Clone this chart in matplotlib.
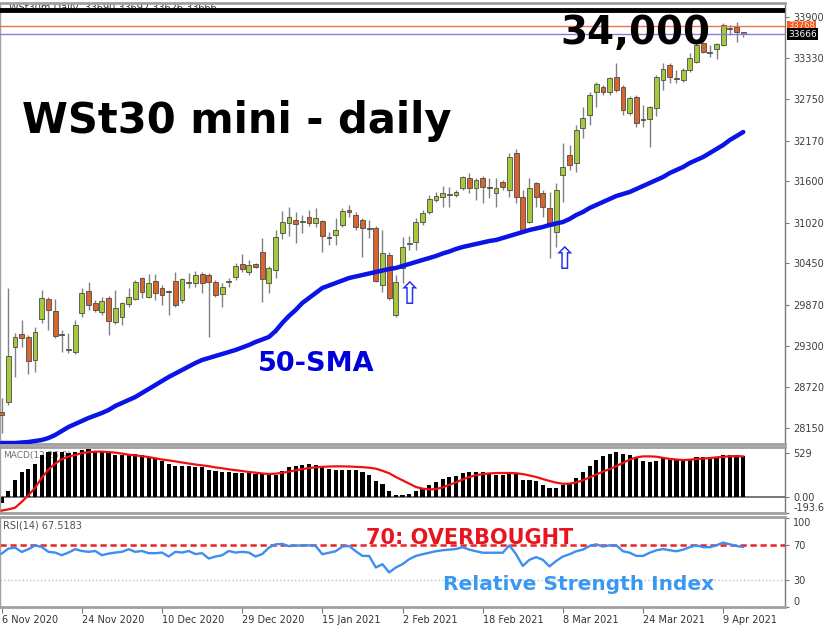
import matplotlib
matplotlib.use('Agg')
from matplotlib import pyplot as plt
from matplotlib import transforms
import numpy as np

# daily candles, WSt30 mini
opens = [28370, 28510, 29280, 29462, 29420, 29098, 29672, 29952, 29784, 29462,
         29252, 29210, 29756, 30064, 29896, 29770, 29966, 29630, 29700, 29882,
         29952, 30246, 29980, 30204, 30106, 30064, 30204, 29938, 30190, 30176,
         30302, 30288, 30190, 30022, 30190, 30260, 30442, 30330, 30442, 30610,
         30176, 30358, 30876, 31016, 31058, 31044, 31100, 31016, 31044, 30820,
         30848, 30988, 31198, 31128, 31058, 30946, 30946, 30148, 30568, 29728,
         30386, 30722, 30750, 31030, 31170, 31338, 31380, 31408, 31408, 31506,
         31646, 31506, 31646, 31520, 31436, 31590, 31478, 31996, 31380, 31030,
         31576, 31436, 31226, 30890, 31688, 31968, 31856, 32346, 32528, 32850,
         32920, 32850, 33060, 32920, 32556, 32780, 32472, 32472, 32626, 33018,
         33228, 33046, 33018, 33158, 33270, 33536, 33396, 33452, 33508, 33746,
         33760, 33690]
closes = [28328, 29154, 29420, 29406, 29084, 29490, 29966, 29798, 29434, 29448,
          29238, 29588, 30036, 29868, 29798, 29924, 29644, 29826, 29896, 29980,
          30190, 30050, 30176, 30036, 30008, 30050, 29868, 30232, 30176, 30288,
          30176, 30190, 30008, 30120, 30204, 30414, 30372, 30428, 30400, 30232,
          30386, 30820, 31030, 31100, 31002, 31030, 31016, 31086, 30834, 30806,
          30918, 31184, 31170, 30960, 30946, 30932, 30204, 30596, 29966, 30190,
          30680, 30736, 31030, 31156, 31352, 31394, 31436, 31422, 31450, 31660,
          31506, 31618, 31520, 31506, 31506, 31520, 31940, 31380, 30918, 31506,
          31380, 31240, 30974, 31478, 31800, 31828, 32318, 32486, 32808, 32962,
          32850, 33046, 32878, 32598, 32766, 32416, 32458, 32640, 33060, 33172,
          33060, 33032, 33158, 33326, 33508, 33410, 33410, 33522, 33788, 33732,
          33690, 33666]
highs = [28566, 30106, 29476, 29658, 29448, 29560, 30078, 29980, 29952, 29518,
         29476, 29658, 30106, 30190, 29938, 29980, 29994, 30078, 29910, 30106,
         30218, 30260, 30302, 30302, 30148, 30078, 30330, 30246, 30316, 30344,
         30330, 30316, 30218, 30176, 30246, 30456, 30582, 30498, 30456, 30806,
         30414, 30918, 31184, 31240, 31170, 31128, 31198, 31226, 31058, 30890,
         31086, 31226, 31268, 31170, 31086, 31058, 30974, 30918, 30610, 30288,
         30820, 30834, 31086, 31198, 31408, 31450, 31534, 31520, 31478, 31674,
         31716, 31646, 31674, 31646, 31646, 31618, 31996, 32052, 31478, 31646,
         31590, 31478, 31450, 31576, 32136, 32108, 32388, 32640, 32850, 32990,
         32948, 33060, 33256, 32948, 32794, 32808, 32668, 32654, 33088, 33256,
         33256, 33158, 33186, 33396, 33578, 33550, 33508, 33536, 33816, 33788,
         33830, 33692]
lows = [28076, 28468, 28860, 29280, 28902, 28930, 29616, 29518, 29406, 29210,
        29196, 29182, 29700, 29798, 29770, 29728, 29448, 29602, 29588, 29840,
        29938, 29966, 29966, 29938, 29868, 29728, 29840, 29896, 30106, 30120,
        30036, 29420, 29980, 29840, 30120, 30218, 30330, 30288, 30386, 29910,
        30036, 30246, 30792, 30834, 30736, 30876, 30974, 30960, 30610, 30708,
        30708, 30960, 31100, 30918, 30540, 30806, 30190, 30050, 29938, 29700,
        30176, 30638, 30638, 30988, 31142, 31310, 31240, 31240, 31380, 31478,
        31436, 31338, 31296, 31366, 31240, 31478, 31380, 31296, 30890, 31016,
        31240, 31100, 30526, 30680, 31310, 31758, 31730, 32206, 32388, 32640,
        32808, 32808, 32850, 32528, 32528, 32360, 32360, 32080, 32514, 32878,
        32976, 32976, 32990, 33130, 33256, 33396, 33340, 33312, 33494, 33648,
        33550, 33626]
sma50 = [27936, 27936, 27936, 27943, 27950, 27964, 27978, 28006, 28048, 28104,
         28160, 28202, 28244, 28286, 28321, 28356, 28398, 28454, 28496, 28538,
         28580, 28636, 28692, 28748, 28804, 28860, 28909, 28958, 29007, 29056,
         29098, 29126, 29154, 29182, 29210, 29238, 29273, 29308, 29350, 29385,
         29420, 29504, 29616, 29714, 29798, 29896, 29966, 30036, 30106, 30141,
         30176, 30211, 30246, 30267, 30288, 30309, 30330, 30351, 30372, 30386,
         30414, 30442, 30470, 30498, 30526, 30554, 30589, 30617, 30652, 30680,
         30701, 30722, 30743, 30764, 30778, 30806, 30834, 30862, 30890, 30918,
         30939, 30960, 30988, 31009, 31030, 31072, 31128, 31170, 31226, 31268,
         31310, 31352, 31394, 31422, 31450, 31492, 31534, 31576, 31618, 31660,
         31716, 31758, 31800, 31856, 31898, 31940, 31996, 32052, 32108, 32178,
         32234, 32290]
macd_main = [-72, 68, 200, 300, 340, 400, 510, 545, 545, 535,
             530, 545, 570, 576, 556, 548, 530, 510, 510, 520,
             515, 500, 480, 470, 430, 400, 375, 375, 370, 360,
             360, 330, 310, 300, 300, 290, 290, 290, 275, 270,
             258, 258, 308, 360, 376, 388, 397, 388, 360, 336,
             328, 328, 328, 320, 300, 268, 188, 160, 68, 28,
             28, 40, 68, 108, 148, 176, 216, 240, 256, 288,
             296, 300, 300, 288, 268, 268, 288, 288, 200, 200,
             188, 148, 108, 108, 148, 168, 228, 300, 376, 440,
             490, 520, 540, 520, 510, 468, 428, 416, 428, 480,
             468, 448, 440, 448, 480, 480, 480, 480, 500, 508,
             500, 488]
macd_signal = [-165, -150, -130, -60, 20, 110, 230, 330, 400, 455,
               485, 505, 528, 538, 545, 545, 540, 533, 522, 508,
               500, 490, 480, 465, 450, 440, 428, 414, 402, 390,
               380, 370, 355, 345, 332, 322, 312, 300, 292, 282,
               276, 280, 290, 305, 320, 335, 348, 356, 362, 366,
               368, 368, 366, 362, 358, 352, 340, 315, 285, 240,
               200, 160, 120, 100, 90, 95, 115, 145, 175, 210,
               240, 262, 275, 283, 287, 288, 288, 285, 275, 258,
               240, 215, 192, 172, 158, 160, 175, 200, 235, 270,
               305, 335, 370, 410, 450, 475, 488, 488, 484, 470,
               458, 450, 444, 448, 456, 462, 468, 476, 482, 490,
               490, 488]
rsi14 = [60, 65.7, 66.8, 61.9, 65, 69.4, 67.5, 62, 61.2, 58.2,
         61.2, 65, 63, 62, 63, 58.2, 60, 61.2, 62, 65,
         62, 63, 60.5, 60.5, 61.2, 56.7, 62, 61.2, 63, 59.5,
         60.5, 54.4, 56.7, 58.2, 63, 61.2, 62, 61.2, 56.7, 59.5,
         66.8, 70.5, 71, 68.5, 69, 69.4, 69.4, 68.7, 59.3, 61,
         62.7, 68, 68.7, 62.7, 57.4, 57.4, 44.3, 48, 38.7, 44.3,
         48, 53.7, 57.4, 59.3, 61, 62.7, 63.8, 64.5, 65.2, 67.3,
         64.5, 62.7, 61, 61, 61, 61, 69.4, 59.3, 46.1, 53,
         56, 53, 45.5, 51.7, 56.7, 59.3, 62.7, 64.5, 68.7, 70.5,
         68, 69.4, 69.4, 62.7, 61, 57.4, 57.4, 61, 63.8, 65.2,
         63.8, 62.7, 64.5, 67.3, 69.4, 67.3, 67.3, 69.4, 72.5, 70.5,
         68.7, 67.5]

date_labels = ['6 Nov 2020', '24 Nov 2020', '10 Dec 2020', '29 Dec 2020', '15 Jan 2021',
               '2 Feb 2021', '18 Feb 2021', '8 Mar 2021', '24 Mar 2021', '9 Apr 2021']
price_ticks = [28150, 28720, 29300, 29870, 30450, 31020, 31600, 32170, 32750, 33330, 33900]

W, H = 831, 631
fig = plt.figure(figsize=(W / 100, H / 100), dpi=100, facecolor='white')


def box(x0, y0, x1, y1):
    # pixel box -> figure fraction
    return [x0 / W, 1 - y1 / H, (x1 - x0) / W, (y1 - y0) / H]


def fx(px):
    return px / W


def fy(py):
    return 1 - py / H


ax = fig.add_axes(box(0, 3, 785, 444))
axm = fig.add_axes(box(0, 447, 785, 513), sharex=ax)
axr = fig.add_axes(box(0, 517, 785, 607), sharex=ax)

x = np.arange(len(closes))
o = np.array(opens)
c = np.array(closes)
up = c >= o

for a in (ax, axm, axr):
    a.set_facecolor('white')
    for s in ('top', 'bottom', 'left'):
        a.spines[s].set_color('#a0a0a0')
        a.spines[s].set_linewidth(2)
    a.spines['left'].set_linewidth(1)
    a.spines['right'].set_color('#7a7a7a')
    a.spines['right'].set_linewidth(1)
    a.yaxis.tick_right()
    a.tick_params(axis='y', labelsize=7, labelcolor='#3c3c3c', color='#7a7a7a',
                  length=3, pad=3)
    a.tick_params(axis='x', bottom=False, labelbottom=False)

# main price panel
ax.vlines(x, lows, highs, color='#808080', lw=1, zorder=2)
ax.bar(x, np.maximum(np.abs(c - o), 8), 0.72, bottom=np.minimum(o, c),
       color=np.where(up, '#a6c93c', '#d9652e'), edgecolor='#4a4a4a', lw=0.6, zorder=3)
ax.plot(x, sma50, color='#0a14e6', lw=3.2, zorder=4, solid_capstyle='round')
ax.axhline(34000, color='black', lw=3.5, zorder=5)
ax.axhline(33768, color='#f07050', lw=1, zorder=5)
ax.axhline(33666, color='#8080d8', lw=1, zorder=5)
ax.set_ylim(27922, 34096)
ax.set_xlim(-0.25, 117.25)
ax.set_yticks(price_ticks)
ax.text(0.012, 0.989, 'WSt30m,Daily  33690 33692 33626 33666', transform=ax.transAxes,
        fontsize=7, color='#333333', va='center', zorder=1)
trans = transforms.blended_transform_factory(ax.transAxes, ax.transData)
ax.text(1.004, 33776, '33768', transform=trans, fontsize=6, color='#ffe0d0',
        va='center', ha='left', zorder=6,
        bbox=dict(boxstyle='square,pad=0.1', fc='#ff5a1e', ec='none'))
ax.text(1.004, 33662, '33666', transform=trans, fontsize=6.5, color='white',
        va='center', ha='left', zorder=6,
        bbox=dict(boxstyle='square,pad=0.12', fc='black', ec='none'))

# MACD panel
axm.text(0.004, 0.87, 'MACD(12,26,9)', transform=axm.transAxes, fontsize=6.5,
         color='#707070', va='center', zorder=1)
axm.bar(x, macd_main, 0.62, color='black', zorder=2)
axm.plot(x, macd_signal, color='#ee1111', lw=1.6, zorder=3)
axm.axhline(0, color='#606060', lw=1.2, zorder=1)
axm.set_ylim(-193.6, 601)
axm.set_yticks([529, 0, -193.6])
axm.set_yticklabels(['529', '0.00', '-193.6'])
axm.get_yticklabels()[2].set_va('bottom')

# RSI panel
axr.text(0.004, 0.9, 'RSI(14) 67.5183', transform=axr.transAxes, fontsize=7,
         color='#505050', va='center')
axr.axhline(70, color='#ee2020', ls=(0, (2.5, 1.5)), lw=1.8, zorder=2)
axr.axhline(30, color='#c0c0c0', ls=':', lw=1, zorder=2)
axr.plot(x, rsi14, color='#3d8ef0', lw=1.7, zorder=3)
axr.set_ylim(-0.5, 101.5)
axr.set_yticks([100, 70, 30, 0])
axr.set_yticklabels(['100', '70', '30', '0'])
axr.get_yticklabels()[0].set_va('top')
axr.get_yticklabels()[3].set_va('bottom')
axr.set_xticks(np.arange(0, 112, 12))
axr.set_xticklabels(date_labels, ha='left')
axr.tick_params(axis='x', bottom=True, labelbottom=True, labelsize=7,
                labelcolor='#333333', color='#7a7a7a', length=4, pad=2)

# annotations
fig.text(fx(22), fy(133), 'WSt30 mini - daily', fontsize=30, fontweight='bold',
         color='black', va='baseline')
fig.text(fx(560), fy(44), '34,000', fontsize=28, fontweight='bold',
         color='black', va='baseline')
fig.text(fx(258), fy(371), '50-SMA', fontsize=19.5, fontweight='bold',
         color='#0000dd', va='baseline')
fig.text(fx(366), fy(544), '70: OVERBOUGHT', fontsize=15, fontweight='bold',
         color='#e8141e', va='baseline')
fig.text(fx(443), fy(590), 'Relative Strength Index', fontsize=14.5, fontweight='bold',
         color='#3a98f0', va='baseline')
fig.text(fx(410), fy(296), '\u21e7', fontsize=22, color='#2233ee', ha='center', va='center')
fig.text(fx(565), fy(260), '\u21e7', fontsize=22, color='#2233ee', ha='center', va='center')

fig.savefig('out.png', dpi=100, facecolor='white')
